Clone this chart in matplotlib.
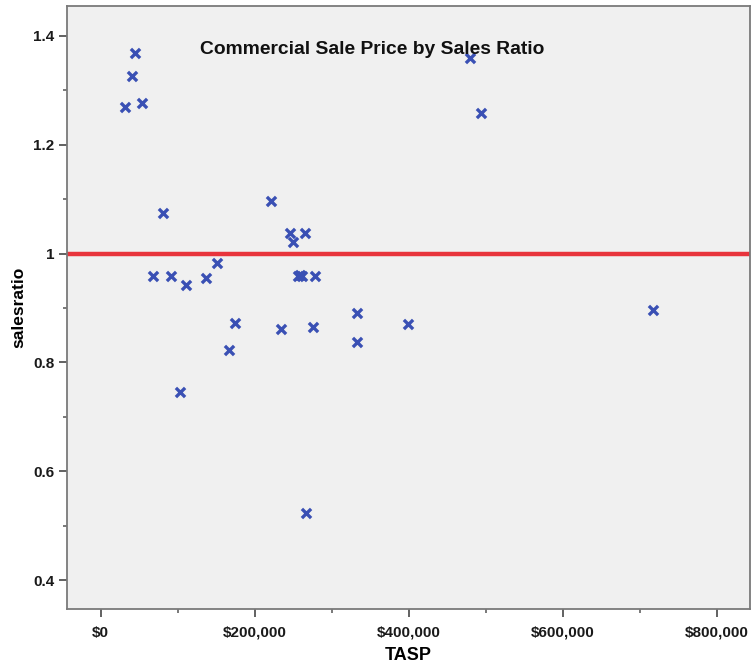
import numpy as np
import matplotlib
matplotlib.use("Agg")
import matplotlib.pyplot as plt
from matplotlib.ticker import MultipleLocator, FuncFormatter

# TASP (sale price) vs sales ratio
tasp = [31600, 40200, 44500, 53200, 80500, 68300, 90900, 110800, 136800,
        151400, 174400, 220800, 245800, 250100, 265300, 256600, 259000,
        261500, 278300, 234200, 276100, 333300, 332500, 167000, 103000,
        266200, 479600, 493900, 399500, 716900]
salesratio = [1.270, 1.326, 1.368, 1.277, 1.075, 0.959, 0.959, 0.942, 0.956,
              0.983, 0.873, 1.096, 1.038, 1.022, 1.038, 0.959, 0.960,
              0.959, 0.959, 0.861, 0.865, 0.891, 0.8375, 0.823, 0.746,
              0.524, 1.359, 1.258, 0.871, 0.896]
ref_line = 1.0

plt.rcParams['font.family'] = ['Liberation Sans', 'DejaVu Sans']

fig = plt.figure(figsize=(7.51, 6.68), dpi=100)
ax = fig.add_axes([67/751, 59/668, 683/751, 603/668])
ax.set_facecolor('#f0f0f0')

ax.axhline(ref_line, color='#e8343c', lw=3.2, zorder=2)
ax.scatter(tasp, salesratio, marker='x', s=44, color='#3a50b4',
           linewidths=2.4, zorder=3)

ax.set_xlim(-43800, 843000)
ax.set_ylim(0.347, 1.455)

ax.xaxis.set_major_locator(MultipleLocator(200000))
ax.xaxis.set_minor_locator(MultipleLocator(100000))
ax.yaxis.set_major_locator(MultipleLocator(0.2))
ax.yaxis.set_minor_locator(MultipleLocator(0.1))
ax.xaxis.set_major_formatter(FuncFormatter(lambda v, p: '${:,.0f}'.format(v)))
ax.yaxis.set_major_formatter(FuncFormatter(lambda v, p: '{:g}'.format(round(v, 1))))

for s in ax.spines.values():
    s.set_color('#7a7a7a')
    s.set_linewidth(1.3)

ax.tick_params(which='major', length=6, width=1.3, color='#555555',
               labelsize=11, pad=3)
ax.tick_params(axis='x', which='major', pad=6)
ax.tick_params(which='minor', length=3, width=1.1, color='#555555')
for lab in ax.get_xticklabels() + ax.get_yticklabels():
    lab.set_fontweight('bold')
    lab.set_color('#1a1a1a')

ax.set_xlabel('TASP', fontsize=13, fontweight='bold', labelpad=5)
ax.set_ylabel('salesratio', fontsize=12.5, fontweight='bold', labelpad=5)
ax.text(0.447, 0.928, 'Commercial Sale Price by Sales Ratio', transform=ax.transAxes,
        ha='center', va='center', fontsize=13.9, fontweight='bold', color='#111111')

fig.savefig('out.png', dpi=100, facecolor='white')
